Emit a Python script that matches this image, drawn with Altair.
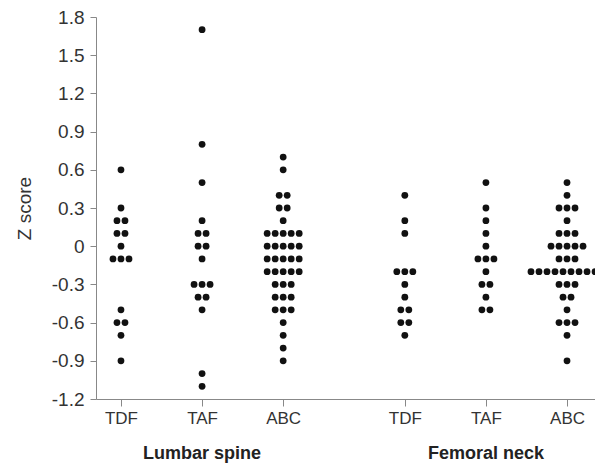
import altair as alt
import pandas as pd

# Z-score values (each entry is one dot)
lumbar_tdf = [0.6, 0.3, 0.2, 0.2, 0.1, 0.1, 0.0, -0.1, -0.1, -0.1, -0.5, -0.6, -0.6, -0.7, -0.9]
lumbar_taf = [1.7, 0.8, 0.5, 0.2, 0.1, 0.1, 0.0, 0.0, -0.1, -0.3, -0.3, -0.3, -0.4, -0.4, -0.5, -1.0, -1.1]
lumbar_abc = ([0.7, 0.6, 0.4, 0.4, 0.3, 0.3, 0.2] + [0.1] * 5 + [0.0] * 5 + [-0.1] * 5 + [-0.2] * 5
              + [-0.3] * 3 + [-0.4] * 3 + [-0.5] * 3 + [-0.6, -0.7, -0.8, -0.9])
femoral_tdf = [0.4, 0.2, 0.1, -0.2, -0.2, -0.2, -0.3, -0.4, -0.5, -0.5, -0.6, -0.6, -0.7]
femoral_taf = [0.5, 0.3, 0.2, 0.1, 0.0, -0.1, -0.1, -0.1, -0.2, -0.3, -0.3, -0.4, -0.5, -0.5]
femoral_abc = ([0.5, 0.4, 0.3, 0.3, 0.3, 0.2, 0.1, 0.1, 0.1] + [0.0] * 5 + [-0.1] * 3 + [-0.2] * 10
               + [-0.3] * 3 + [-0.4] * 2 + [-0.5] + [-0.6] * 3 + [-0.7, -0.9])

groups = ["TDF", "TAF", "ABC", "TDF", "TAF", "ABC"]
group_pos = [1, 2, 3, 4.5, 5.5, 6.5]
series = [lumbar_tdf, lumbar_taf, lumbar_abc, femoral_tdf, femoral_taf, femoral_abc]
sites = ["Lumbar spine", "Femoral neck"]
site_pos = [2, 5.5]
y_ticks = [-1.2, -0.9, -0.6, -0.3, 0, 0.3, 0.6, 0.9, 1.2, 1.5, 1.8]

spacing = 0.0987  # dot spacing in x units (side-by-side dots)
rows = []
for pos, vals in zip(group_pos, series):
    counts = {}
    for v in vals:
        k = round(v, 2)
        counts[k] = counts.get(k, 0) + 1
    for k, n in counts.items():
        for i in range(n):
            rows.append({"x": pos + (i - (n - 1) / 2) * spacing, "z": k})
dots = pd.DataFrame(rows)
site_df = pd.DataFrame({"x": site_pos, "label": sites})

FONT = "Liberation Sans"
label_expr = ("datum.value == 1 || datum.value == 4.5 ? 'TDF' : "
              "(datum.value == 2 || datum.value == 5.5 ? 'TAF' : 'ABC')")

xscale = alt.Scale(domain=[0.692, 6.845], nice=False, zero=False)
yscale = alt.Scale(domain=[-1.2, 1.8], nice=False, zero=False)

points = alt.Chart(dots).mark_circle(size=46, color="#111111", opacity=1).encode(
    x=alt.X("x:Q", scale=xscale, axis=alt.Axis(
        values=group_pos, labelExpr=label_expr, title=None, grid=False,
        domainColor="#888888", tickColor="#888888", tickSize=7,
        labelColor="#333333", labelFont=FONT, labelFontSize=17, labelPadding=4)),
    y=alt.Y("z:Q", scale=yscale, axis=alt.Axis(
        values=y_ticks, title="Z score", grid=False,
        labelExpr="datum.value == 0 ? '0' : replace(format(datum.value, '.1f'), '\u2212', '-')",
        domainColor="#888888", tickColor="#888888", tickSize=6,
        labelColor="#333333", labelFont=FONT, labelFontSize=19, labelPadding=6,
        titleFont=FONT, titleFontSize=19, titleFontWeight="normal", titleColor="#333333",
        titlePadding=17)),
)

site_text = alt.Chart(site_df).mark_text(
    font=FONT, fontSize=18, fontWeight="bold", color="#222222", baseline="middle"
).encode(
    x=alt.X("x:Q", scale=xscale),
    y=alt.value(437),
    text="label:N",
)

chart = alt.layer(points, site_text).properties(
    width=499, height=382,
    autosize=alt.AutoSizeParams(type="none"),
    padding={"left": 88, "top": 9, "right": 0, "bottom": 68},
).configure_view(stroke=None)

chart.save("out.html", embed_options={"renderer": "svg", "actions": False})
